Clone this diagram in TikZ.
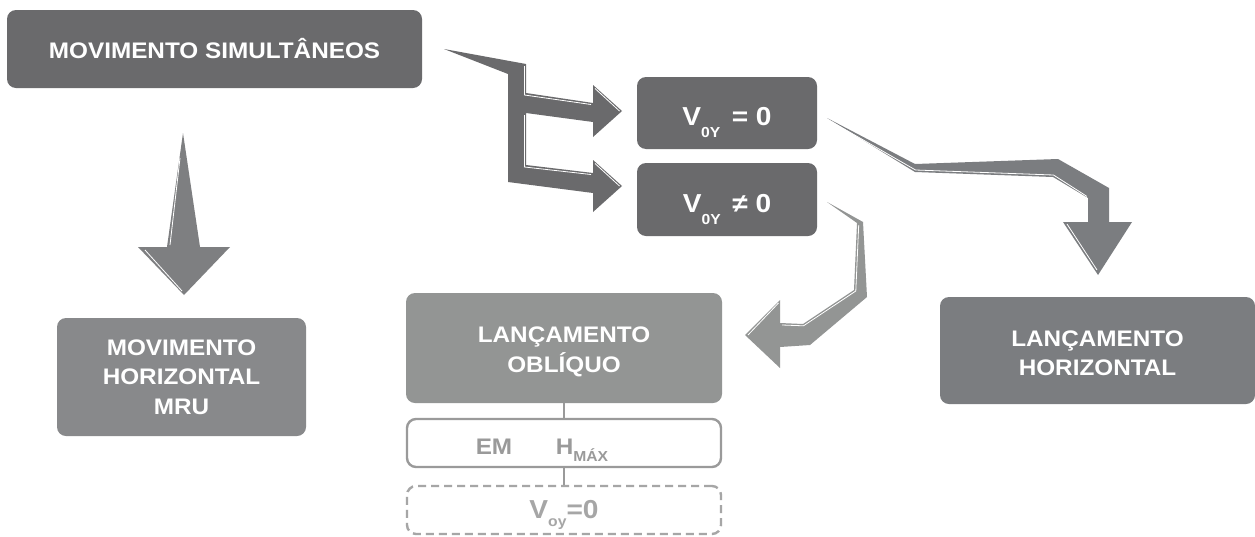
\documentclass[tikz,border=0pt]{standalone}
\usepackage{fontspec}
\setmainfont[FakeStretch=1.08]{Liberation Sans}
\definecolor{cdark}{HTML}{6A6A6C}
\definecolor{cmru}{HTML}{88898B}
\definecolor{carrA}{HTML}{7E7F81}
\definecolor{clh}{HTML}{7B7D80}
\definecolor{clo}{HTML}{939594}
\definecolor{cem}{HTML}{9A9A9A}
\definecolor{cdash}{HTML}{A6A6A6}
\tikzset{
  box/.style={rectangle, rounded corners=9pt, inner sep=0pt},
  lbl/.style={text=white, align=center, inner sep=0pt,
    font=\bfseries\fontsize{22.5}{29.5}\selectfont},
  hl/.style={draw=white, line width=0.8pt, line join=miter},
}
\newcommand{\bigtxt}[1]{{\fontsize{26}{30}\selectfont #1}}
\newcommand{\subtxt}[2][-12pt]{\raisebox{#1}{\fontsize{14.5}{14.5}\selectfont #2}}
\begin{document}
\begin{tikzpicture}[x=1pt,y=-1pt]
\useasboundingbox (0,0) rectangle (1255,536);
\fill[white] (0,0) rectangle (1255,536);

% boxes
\node[box, fill=cdark, minimum width=415, minimum height=78] (sim) at (214.5,49) {};
\node[box, fill=cdark, minimum width=180, minimum height=72] (v0) at (727,113) {};
\node[box, fill=cdark, minimum width=180, minimum height=73] (vn) at (727,199.5) {};
\node[box, fill=cmru, minimum width=249, minimum height=118] (mru) at (181.5,377) {};
\node[box, fill=clo, minimum width=316, minimum height=110] (lo) at (564,348) {};
\node[box, fill=clh, minimum width=315, minimum height=107] (lh) at (1097.5,350.5) {};
\node[box, draw=cem, line width=2.4pt, fill=white, minimum width=314, minimum height=48] (em) at (564,443) {};
\node[box, draw=cdash, dash pattern=on 8pt off 5pt, line width=2.4pt, fill=white, minimum width=314, minimum height=48] (voy) at (564,510) {};

% labels
\node[lbl] (simt) at (sim.center) {MOVIMENTO SIMULTÂNEOS};
\node[lbl, anchor=base] (v0t) at ([yshift=-12pt]v0.center)
  {\bigtxt{V}\subtxt{0Y}\,\bigtxt{ = 0}};
\node[lbl, anchor=base] (vnt) at ([yshift=-12.5pt]vn.center)
  {\bigtxt{V}\subtxt{0Y}\,\bigtxt{ ≠ 0}};
\node[lbl] (mrut) at (mru.center) {MOVIMENTO\\HORIZONTAL\\MRU};
\node[lbl] (lot) at ([yshift=-4pt]lo.center) {LANÇAMENTO\\OBLÍQUO};
\node[lbl] (lht) at ([yshift=-2.5pt]lh.center) {LANÇAMENTO\\HORIZONTAL};
\node[lbl, text=cem, anchor=base] (emt) at ([xshift=-70pt,yshift=-11pt]em.center) {EM};
\node[lbl, text=cem, anchor=base] (hmax) at ([xshift=18pt,yshift=-11pt]em.center) {H\subtxt[-7pt]{MÁX}};
\node[lbl, text=cdash, anchor=base] (voyt) at ([yshift=-8pt]voy.center)
  {\bigtxt{V}\subtxt[-8pt]{oy}\bigtxt{=0}};

\draw[cem, line width=2.4pt] (lo.south) -- (em.north);
\draw[cem, line width=2.4pt] (em.south) -- (voy.north);

% arrow 1: simultaneos -> MRU
\fill[carrA] (183,133) -- (167,247) -- (138,247) -- (184,295) -- (230,247) -- (200,247) -- cycle;
\draw[hl] (180,158) -- (170,245);
\draw[hl] (145,250) -- (182,291);

% arrow 2: fork to V boxes
\fill[cdark] (444,49) -- (526,64) -- (526,93) -- (593,103) -- (593,85) -- (622,111) -- (593,137)
  -- (593,122) -- (526,113) -- (526,165) -- (593,173) -- (593,160) -- (622,186) -- (593,212)
  -- (593,193) -- (508,182) -- (508,74) -- cycle;
\draw[hl] (524.5,66) -- (524.5,95) -- (591,104.5);
\draw[hl] (524.5,115) -- (524.5,167) -- (591,174.5);
\draw[hl] (595,88.5) -- (619.5,111);
\draw[hl] (595,163.5) -- (619.5,186);

% arrow 3: V0Y=0 -> lancamento horizontal
\fill[clh] (827,118) -- (915,164) -- (1058,159) -- (1109,188) -- (1109,222) -- (1132,222)
  -- (1098,275) -- (1063,222) -- (1088,222) -- (1088,198) -- (1053,177) -- (915,172) -- cycle;
\draw[hl] (832,122) -- (915.5,170) -- (1053.5,175) -- (1086.3,196) -- (1086.3,221);
\draw[hl] (1067,224) -- (1097,270);

% arrow 4: V0Y!=0 -> lancamento obliquo
\fill[clo] (827,202) -- (863,222) -- (867,297) -- (810,345) -- (780,347) -- (780,368) -- (745,335)
  -- (780,300) -- (780,323) -- (803,324) -- (854,290) -- (857,223) -- cycle;
\draw[hl] (858.7,225) -- (855.8,291) -- (803.5,325.8) -- (782,325);
\draw[hl] (778.5,303) -- (748,335);
\end{tikzpicture}
\end{document}
